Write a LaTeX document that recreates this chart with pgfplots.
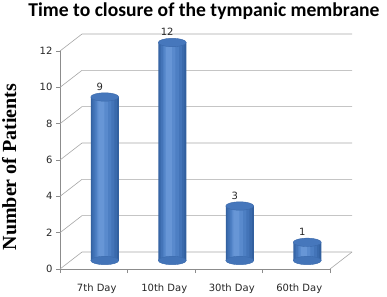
\documentclass[border=0pt]{standalone}
\usepackage{pgfplots}
\usepackage{pgfplotstable}
\pgfplotsset{compat=1.18}
\usepackage{fontspec}
\setmainfont{DejaVu Sans}
\newfontfamily\titlefont{Carlito}
\newfontfamily\labfont{Liberation Serif}
\definecolor{gridgray}{HTML}{A6A6A6}
\definecolor{axgray}{HTML}{8C8C8C}
\definecolor{bA}{HTML}{32609F}
\definecolor{bB}{HTML}{3A6AAC}
\definecolor{bC}{HTML}{4374B8}
\definecolor{bD}{HTML}{4D7FC3}
\definecolor{bE}{HTML}{598ACD}
\definecolor{bF}{HTML}{6796D6}
\definecolor{captop}{HTML}{4677BC}
\definecolor{capdraw}{HTML}{3A68AA}
\pgfplotstableread{
x y
0 9
1 12
2 3
3 1
}\data
\pgfplotstableread{
x y
0 0
1 0
2 0
3 0
}\base
\begin{document}
\begin{tikzpicture}[x=1pt,y=1pt]
\path (0,0) rectangle (387,295);
\node[anchor=base, inner sep=0pt, font=\titlefont\bfseries\fontsize{19.6}{22}\selectfont] at (204,279) {Time to closure of the tympanic membrane};
\node[rotate=90, anchor=base, inner sep=0pt, font=\labfont\bfseries\fontsize{20}{22}\selectfont] at (16,128) {Number of Patients};
\begin{axis}[at={(60pt,26pt)}, anchor=south west, scale only axis,
  width=270pt, height=218pt, xmin=-0.5, xmax=3.5, ymin=0, ymax=12, clip=false,
  axis x line*=bottom, axis y line*=left, separate axis lines,
  axis line style={axgray, line width=0.6pt, -},
  ytick={0,2,...,12}, xtick={0,1,2,3},
  xticklabels={7th Day,10th Day,30th Day,60th Day},
  major x tick style={draw=none},
  minor xtick={-0.5,0.5,1.5,2.5,3.5},
  minor x tick style={axgray, line width=0.6pt},
  y tick style={axgray, line width=0.6pt},
  tick align=outside, major tick length=4pt, minor tick length=4pt,
  tick label style={font=\fontsize{10}{12}\selectfont, text=black!85},
  /pgf/number format/assume math mode=true,
  xticklabel style={yshift=-7pt, xshift=3pt},
]
\pgfplotsinvokeforeach{0,2,4,6,8,10,12}{
  \draw[gridgray, line width=0.6pt] (axis cs:-0.5,#1) -- ++(22pt,17pt) -- ++(270pt,0pt);
}
\draw[gridgray, line width=0.6pt] (axis cs:3.5,0) -- ++(22pt,17pt);
\end{axis}
\begin{axis}[at={(71pt,34.5pt)}, anchor=south west, scale only axis,
  width=270pt, height=218pt, xmin=-0.5, xmax=3.5, ymin=0, ymax=12,
  hide axis, clip=false,
  /pgf/number format/assume math mode=true]
\addplot[only marks, mark=*, mark size=14pt,
  mark options={yscale=0.3, draw=bB, fill=bC}] table {\base};
\addplot[ybar, bar width=28pt, bar shift=0pt, draw=none, fill=bA] table {\data};
\addplot[ybar, bar width=25pt, bar shift=-0.5pt, draw=none, fill=bB] table {\data};
\addplot[ybar, bar width=21pt, bar shift=-1pt, draw=none, fill=bC] table {\data};
\addplot[ybar, bar width=16pt, bar shift=-1.5pt, draw=none, fill=bD] table {\data};
\addplot[ybar, bar width=11pt, bar shift=-2.5pt, draw=none, fill=bE] table {\data};
\addplot[ybar, bar width=6pt, bar shift=-3.5pt, draw=none, fill=bF] table {\data};
\addplot[only marks, mark=*, mark size=14pt,
  mark options={yscale=0.3, draw=capdraw, fill=captop},
  nodes near coords,
  nodes near coords style={anchor=south, yshift=3pt, xshift=-5pt,
    font=\fontsize{10}{12}\selectfont, text=black!85}]
  table {\data};
\end{axis}
\end{tikzpicture}
\end{document}
